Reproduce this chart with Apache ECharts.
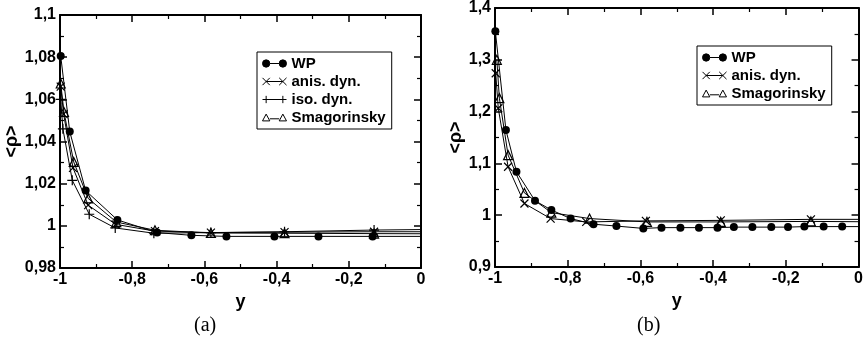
<!DOCTYPE html>
<html>
<head>
<meta charset="utf-8">
<script src="https://cdn.jsdelivr.net/npm/echarts@6/dist/echarts.min.js"></script>
<style>html,body{margin:0;padding:0;background:#fff}#c{width:866px;height:349px}</style>
</head>
<body>
<div id="c"></div>
<script>
// ---- Panel (a) data ----
const wpXa   = [-0.998,-0.973,-0.929,-0.841,-0.731,-0.636,-0.539,-0.406,-0.284,-0.134,0.1];
const wpYa   = [1.0805,1.0447,1.0167,1.0028,0.9968,0.9955,0.9950,0.9950,0.9950,0.9950,0.9950];
const anisXa = [-0.998,-0.990,-0.964,-0.922,-0.846,-0.737,-0.582,-0.378,-0.130,0.1];
const anisYa = [1.0660,1.0530,1.0275,1.0098,1.0007,0.9975,0.9968,0.9970,0.9972,0.9972];
const isoXa  = [-0.998,-0.992,-0.966,-0.919,-0.847,-0.740,-0.582,-0.378,-0.130,0.1];
const isoYa  = [1.0600,1.0460,1.0216,1.0055,0.9990,0.9965,0.9968,0.9972,0.9980,0.9984];
const smagXa = [-0.998,-0.989,-0.962,-0.922,-0.844,-0.737,-0.582,-0.378,-0.130,0.1];
const smagYa = [1.0675,1.0540,1.0303,1.0130,1.0018,0.9979,0.9966,0.9965,0.9963,0.9962];
// ---- Panel (b) data ----
const wpXb   = [-0.999,-0.970,-0.941,-0.890,-0.845,-0.792,-0.729,-0.666,-0.592,-0.542,-0.490,-0.439,-0.388,-0.343,-0.292,-0.240,-0.194,-0.149,-0.096,-0.045,0.03];
const wpYb   = [1.355,1.1645,1.084,1.028,1.010,0.9935,0.9826,0.979,0.9745,0.976,0.976,0.976,0.976,0.977,0.977,0.977,0.977,0.978,0.978,0.978,0.978];
const anisXb = [-0.998,-0.991,-0.964,-0.919,-0.847,-0.749,-0.585,-0.379,-0.131,0.1];
const anisYb = [1.274,1.2065,1.0935,1.0226,0.9935,0.987,0.989,0.990,0.992,0.992];
const smagXb = [-0.995,-0.988,-0.964,-0.919,-0.845,-0.740,-0.582,-0.379,-0.131,0.1];
const smagYb = [1.300,1.226,1.116,1.043,1.005,0.9935,0.987,0.987,0.988,0.987];
// ---- Axis ticks ----
const xTicks  = {min:-1, max:0, interval:0.2};
const yTicksA = {min:0.98, max:1.1, interval:0.02};
const yTicksB = {min:0.9, max:1.4, interval:0.1};
const names = ['WP','anis. dyn.','iso. dyn.','Smagorinsky'];

const FONT = 'Liberation Sans';
const zip = (xs, ys) => xs.map((x, i) => [x, ys[i]]);
const fmt = v => String(Math.round(v * 1000) / 1000).replace('.', ',');

const SYM = {
  'WP': 'circle',
  'anis. dyn.': 'path://M0,0L10,10M0,10L10,0',
  'iso. dyn.': 'path://M5,0L5,10M0,5L10,5',
  'Smagorinsky': 'triangle'
};
const SIZE = {'WP': 8, 'anis. dyn.': 8, 'iso. dyn.': 10, 'Smagorinsky': 9};
const ICON = {
  'WP': 'path://M0.5,4A3.5,3.5 0 1 1 7.5,4A3.5,3.5 0 1 1 0.5,4ZM16.5,4A3.5,3.5 0 1 1 23.5,4A3.5,3.5 0 1 1 16.5,4ZM7.5,4L16.5,4',
  'anis. dyn.': 'path://M0,0L7,7M0,7L7,0M3.5,3.5L19.5,3.5M16,0L23,7M16,7L23,0',
  'iso. dyn.': 'path://M3.5,0L3.5,7M0,3.5L23,3.5M19.5,0L19.5,7',
  'Smagorinsky': 'path://M0,7L3.5,0.5L7,7ZM16,7L19.5,0.5L23,7ZM7,5L16,5'
};
const fillOf = n => (n === 'WP' ? '#000' : 'rgba(255,255,255,0)');

function mkSeries(name, xs, ys, gi) {
  return {
    type: 'line', name: name, xAxisIndex: gi * 2, yAxisIndex: gi * 2,
    data: zip(xs, ys), symbol: SYM[name], symbolSize: SIZE[name],
    showAllSymbol: true, clip: true, animation: false,
    lineStyle: {color: '#000', width: 1},
    itemStyle: {color: fillOf(name), borderColor: '#000', borderWidth: name === 'WP' ? 0 : 1.2},
    emphasis: {disabled: true}
  };
}

function axisCommon(t, labels) {
  return {
    type: 'value', min: t.min, max: t.max, interval: t.interval,
    axisLine: {show: true, onZero: false, lineStyle: {color: '#000', width: 2}},
    axisTick: {show: true, inside: true, length: 7, lineStyle: {color: '#000', width: 1.5}},
    minorTick: {show: true, splitNumber: 2, length: 4, lineStyle: {color: '#000', width: 1.2}},
    splitLine: {show: false}, minorSplitLine: {show: false},
    axisLabel: {show: labels, color: '#000', fontFamily: FONT, fontWeight: 'bold', fontSize: 16, margin: 4, formatter: fmt, showMinLabel: true, showMaxLabel: true}
  };
}

function mkLegend(left, top, list) {
  return {
    orient: 'vertical', left: left, top: top, itemWidth: 24, itemHeight: 8, itemGap: 1,
    padding: [3, 6, 3, 5], borderColor: '#000', borderWidth: 1, selectedMode: false,
    textStyle: {fontFamily: FONT, fontWeight: 'bold', fontSize: 15, color: '#000', lineHeight: 17},
    data: list.map(n => ({name: n, icon: ICON[n], itemStyle: {color: fillOf(n), borderColor: '#000', borderWidth: 1}}))
  };
}

const xa = [], ya = [];
[[0, yTicksA, 37], [1, yTicksB, 25]].forEach(([gi, yt, gap]) => {
  xa.push(Object.assign(axisCommon(xTicks, true), {gridIndex: gi, position: 'bottom', name: 'y', nameLocation: 'middle', nameGap: 15,
    nameTextStyle: {fontFamily: FONT, fontWeight: 'bold', fontSize: 18, color: '#000'}}));
  xa.push(Object.assign(axisCommon(xTicks, false), {gridIndex: gi, position: 'top'}));
  ya.push(Object.assign(axisCommon(yt, true), {gridIndex: gi, position: 'left', name: '<ρ>', nameLocation: 'middle', nameGap: gap, nameRotate: 90,
    nameTextStyle: {fontFamily: FONT, fontWeight: 'bold', fontSize: 18, color: '#000'}}));
  ya.push(Object.assign(axisCommon(yt, false), {gridIndex: gi, position: 'right'}));
});

const chart = echarts.init(document.getElementById('c'), null, {renderer: 'canvas'});
chart.setOption({
  backgroundColor: '#fff',
  animation: false,
  grid: [
    {left: 60, top: 15, width: 361, height: 253},
    {left: 495, top: 8, width: 369, height: 259}
  ],
  xAxis: xa,
  yAxis: ya,
  legend: [
    mkLegend(257, 52, names),
    mkLegend(697, 46, ['WP', 'anis. dyn.', 'Smagorinsky'])
  ],
  graphic: [
    {type: 'text', left: 194, top: 316, style: {text: '(a)', font: '20px "Liberation Serif"', fill: '#000'}},
    {type: 'text', left: 637, top: 316, style: {text: '(b)', font: '20px "Liberation Serif"', fill: '#000'}}
  ],
  series: [
    mkSeries('iso. dyn.', isoXa, isoYa, 0),
    mkSeries('anis. dyn.', anisXa, anisYa, 0),
    mkSeries('Smagorinsky', smagXa, smagYa, 0),
    mkSeries('WP', wpXa, wpYa, 0),
    mkSeries('anis. dyn.', anisXb, anisYb, 1),
    mkSeries('Smagorinsky', smagXb, smagYb, 1),
    mkSeries('WP', wpXb, wpYb, 1)
  ]
});
</script>
</body>
</html>
